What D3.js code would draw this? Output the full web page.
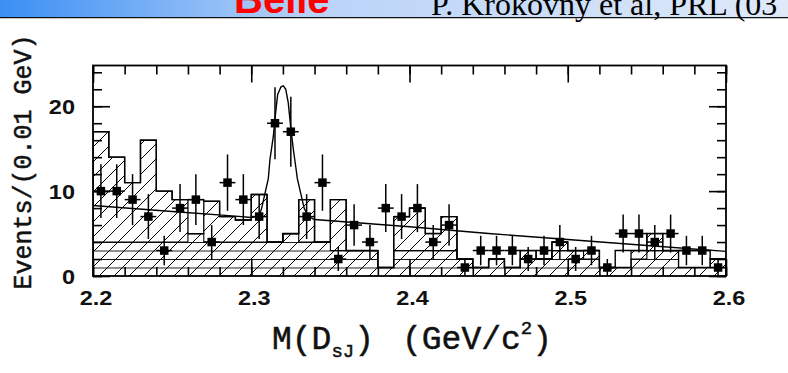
<!DOCTYPE html>
<html><head><meta charset="utf-8">
<script src="https://cdn.jsdelivr.net/npm/d3@7"></script>
<style>
html,body{margin:0;padding:0;background:#fff;}
svg{display:block;}
</style></head><body>
<svg id="chart" width="788" height="373"></svg>
<script>
// D_s pi0 invariant mass, 0.01 GeV bins
const binCenters = [2.205,2.215,2.225,2.235,2.245,2.255,2.265,2.275,2.285,2.295,
                    2.305,2.315,2.325,2.335,2.345,2.355,2.365,2.375,2.385,2.395,
                    2.405,2.415,2.425,2.435,2.445,2.455,2.465,2.475,2.485,2.495,
                    2.505,2.515,2.525,2.535,2.545,2.555,2.565,2.575,2.585,2.595];
const counts = [10,10,9,7,3,8,9,4,11,9,
                7,18,17,7,11,2,6,4,8,7,
                8,4,6,1,3,3,3,2,3,4,
                2,3,1,5,5,4,5,3,3,1];
// sideband background, diagonal hatch
const sidebandHatched = [17,14,11,16,10,9,5,8.8,7,6.6,
                         9.6,4,5,9,4,9,3,3,1,7,
                         8,5,7,2,1,2,1,3,2,4,
                         3,3,1,1,3,5,3,1,1,2];
// sideband outline (open where above the hatched part)
const sidebandOutline = [17,14,11,16,10,9,9,8.8,7,6.6,
                         9.6,4,5,9,4,9,3,3,1,7,
                         8,5,7,2,1,2,1,3,2,4,
                         3,3,1,3,3,5,3,3,3,2];
// lower component, horizontal hatch
const lowerHatched = [4,4,4,4,4,4,5,4,4,4,
                      4,4,5,4,4,3,3,3,1,3,
                      3,3,3,2,1,2,1,2,2,3,
                      3,2,1,1,2,3,3,1,1,2];
// fitted signal + background
const fitMass = [2.200,2.250,2.290,2.300,2.305,2.3066,2.3108,2.3118,2.3139,2.3154,
                 2.3167,2.3188,2.3203,2.3218,2.3234,2.3249,2.3266,2.3281,2.3291,2.3334,
                 2.336,2.340,2.400,2.450,2.500,2.550,2.600];
const fitValues = [8.3,7.6,7.05,6.9,7.1,8.0,11.5,13.7,16.4,19.2,
                   21.4,22.3,22.4,22.0,20.4,17.6,14.9,12.9,11.5,8.0,
                   7.0,6.65,5.8,5.0,4.3,3.6,2.9];
const xTickValues = [2.2,2.3,2.4,2.5,2.6];
const xTickLabels = ["2.2","2.3","2.4","2.5","2.6"];
const yTickValues = [0,10,20];
const yTickLabels = ["0","10","20"];
const binWidth = 0.01;

const svg = d3.select("#chart");
const x = d3.scaleLinear().domain([2.2, 2.6]).range([93, 726]);
const y = d3.scaleLinear().domain([0, 24.8]).range([276, 65.5]);

// header strip
const defs = svg.append("defs");
const grad = defs.append("linearGradient").attr("id","hdr").attr("x1","0").attr("x2","1");
grad.append("stop").attr("offset","0").attr("stop-color","#3b8ff4");
grad.append("stop").attr("offset","0.4").attr("stop-color","#b9d3f8");
grad.append("stop").attr("offset","1").attr("stop-color","#dfe9f8");
svg.append("rect").attr("x",0).attr("y",0).attr("width",788).attr("height",17).attr("fill","url(#hdr)");
svg.append("line").attr("x1",0).attr("x2",788).attr("y1",17.6).attr("y2",17.6).attr("stroke","#111").attr("stroke-width",1.4);
svg.append("text").attr("x",234).attr("y",13).attr("font-family","Liberation Sans, Arial, sans-serif")
  .attr("font-weight","bold").attr("font-size",40).attr("fill","#ff0000").text("Belle");
svg.append("text").attr("x",431).attr("y",15).attr("font-family","Liberation Serif, Times New Roman, serif")
  .attr("font-size",32).attr("fill","#000").text("P. Krokovny et al, PRL (03");

// hatch patterns
const diag = defs.append("pattern").attr("id","diag").attr("patternUnits","userSpaceOnUse")
  .attr("width",15).attr("height",15);
diag.append("path").attr("d","M-2,17 L17,-2 M-4,4 L4,-4 M11,19 L19,11")
  .attr("stroke","#000").attr("stroke-width",1).attr("fill","none");
const unitPx = y(0) - y(1);
const horiz = defs.append("pattern").attr("id","horiz").attr("patternUnits","userSpaceOnUse")
  .attr("width",20).attr("height",unitPx).attr("patternTransform",`translate(0,${y(0)})`);
horiz.append("line").attr("x1",0).attr("x2",20).attr("y1",0.5).attr("y2",0.5)
  .attr("stroke","#000").attr("stroke-width",0.9);

defs.append("clipPath").attr("id","plotClip").append("rect")
  .attr("x",x(2.2)).attr("y",y(24.8)).attr("width",x(2.6)-x(2.2)).attr("height",y(0)-y(24.8));

function steps(vals){
  const pts = [];
  binCenters.forEach((c,i)=>{
    pts.push({m:c-binWidth/2, v:vals[i]});
    pts.push({m:c+binWidth/2, v:vals[i]});
  });
  return pts;
}
const area = d3.area().x(d=>x(d.m)).y0(y(0)).y1(d=>y(d.v));
const outline = d3.line().x(d=>x(d.m)).y(d=>y(d.v));

const plot = svg.append("g").attr("clip-path","url(#plotClip)");

plot.append("path").attr("d",area(steps(sidebandHatched))).attr("fill","url(#diag)");
plot.append("path").attr("d",area(steps(lowerHatched))).attr("fill","url(#horiz)");

function drawOutline(vals, w){
  const pts = steps(vals);
  pts.unshift({m:2.2, v:0});
  pts.push({m:2.6, v:0});
  plot.append("path").attr("d",outline(pts)).attr("fill","none")
    .attr("stroke","#000").attr("stroke-width",w);
}
drawOutline(sidebandOutline, 1.4);
drawOutline(sidebandHatched, 1.3);
drawOutline(lowerHatched, 1.1);

// fit curve
const fitPts = fitMass.map((m,i)=>({m, v:fitValues[i]}));
plot.append("path").attr("d",outline(fitPts)).attr("fill","none")
  .attr("stroke","#000").attr("stroke-width",1.4);

// data points with errors
const pts = svg.append("g");
binCenters.forEach((c,i)=>{
  const n = counts[i], e = Math.sqrt(n);
  pts.append("line").attr("x1",x(c)).attr("x2",x(c)).attr("y1",y(n-e)).attr("y2",y(n+e))
    .attr("stroke","#000").attr("stroke-width",1.5);
  pts.append("line").attr("x1",x(c-binWidth/2)).attr("x2",x(c+binWidth/2)).attr("y1",y(n)).attr("y2",y(n))
    .attr("stroke","#000").attr("stroke-width",1.5);
  pts.append("rect").attr("x",x(c)-4.25).attr("y",y(n)-4.25).attr("width",8.5).attr("height",8.5).attr("fill","#000");
});

// frame and ticks
const axes = svg.append("g");
const minorX = d3.range(0,21).map(k=>2.2+k*0.02);
const minorY = d3.range(0,13).map(k=>k*2);
function axisTicks(axisFn, scale, vals, len, tx, ty){
  const g = axes.append("g").attr("transform",`translate(${tx},${ty})`)
    .call(axisFn(scale).tickValues(vals).tickSize(len).tickFormat(""));
  g.select(".domain").remove();
  g.selectAll(".tick line").attr("stroke","#000").attr("stroke-width",1.6);
}
axisTicks(d3.axisBottom, x, minorX, -9, 0, y(0));
axisTicks(d3.axisBottom, x, xTickValues, -17, 0, y(0));
axisTicks(d3.axisTop, x, minorX, -9, 0, y(24.8));
axisTicks(d3.axisTop, x, xTickValues, -17, 0, y(24.8));
axisTicks(d3.axisLeft, y, minorY, -9, x(2.2), 0);
axisTicks(d3.axisLeft, y, yTickValues, -17, x(2.2), 0);
axisTicks(d3.axisRight, y, minorY, -9, x(2.6), 0);
axisTicks(d3.axisRight, y, yTickValues, -17, x(2.6), 0);
axes.append("rect").attr("x",x(2.2)).attr("y",y(24.8)).attr("width",x(2.6)-x(2.2)).attr("height",y(0)-y(24.8))
  .attr("fill","none").attr("stroke","#000").attr("stroke-width",1.8);

// tick labels
const lab = svg.append("g").attr("font-family","Liberation Sans, Arial, sans-serif")
  .attr("font-weight","bold").attr("font-size",21).attr("fill","#111");
xTickValues.forEach((v,i)=>{
  lab.append("text").attr("transform",`translate(${x(v)+3},305) scale(1.12,1)`)
    .attr("text-anchor","middle").text(xTickLabels[i]);
});
yTickValues.forEach((v,i)=>{
  lab.append("text").attr("transform",`translate(75,${y(v)+7.5}) scale(1.12,1)`)
    .attr("text-anchor","end").text(yTickLabels[i]);
});

// axis titles
const mono = "Liberation Mono, DejaVu Sans Mono, monospace";
svg.append("text").attr("transform","translate(31,162) rotate(-90)")
  .attr("text-anchor","middle").attr("font-family",mono).attr("font-size",25).attr("fill","#111")
  .attr("stroke","#111").attr("stroke-width",0.5)
  .text("Events/(0.01 GeV)");
const xt = svg.append("text").attr("y",349).attr("font-family",mono)
  .attr("font-size",33).attr("fill","#111").attr("stroke","#111").attr("stroke-width",0.5);
xt.append("tspan").attr("x",272).text("M(D");
xt.append("tspan").attr("font-size",19).attr("dy",8).text("sJ");
xt.append("tspan").attr("dy",-8).text(")");
xt.append("tspan").attr("x",402).text("(GeV/c");
xt.append("tspan").attr("font-size",19).attr("dy",-15).text("2");
xt.append("tspan").attr("dy",15).text(")");
</script>
</body></html>
